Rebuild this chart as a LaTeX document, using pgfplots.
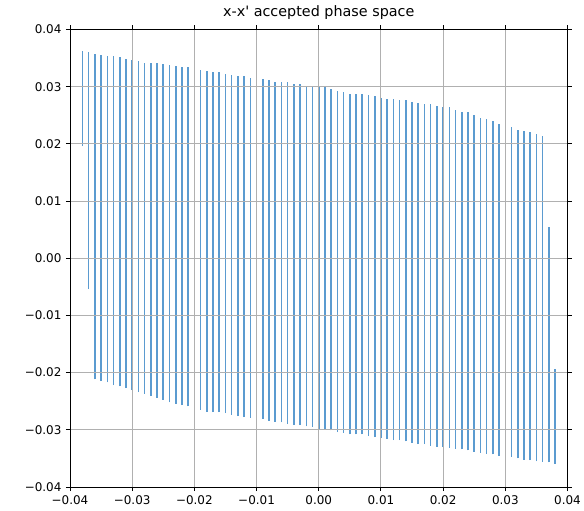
\documentclass[border=0pt]{standalone}
\usepackage{fontspec}
\setmainfont{DejaVu Sans}
\usepackage{pgfplots}
\pgfplotsset{compat=1.18}
\usepackage{pgfplotstable}
\definecolor{mplblue}{HTML}{1F77B4}
\definecolor{colbar}{HTML}{5B9BD0}
\definecolor{mplgrid}{HTML}{B0B0B0}

\pgfplotstableread{
x lo hi
-0.038 0.0196 0.0362
-0.037 -0.0054 0.0360
-0.036 -0.0212 0.0357
-0.035 -0.0215 0.0355
-0.034 -0.0217 0.0353
-0.033 -0.0222 0.0353
-0.032 -0.0224 0.0352
-0.031 -0.0227 0.0349
-0.030 -0.0230 0.0347
-0.029 -0.0234 0.0345
-0.028 -0.0237 0.0342
-0.027 -0.0241 0.0342
-0.026 -0.0244 0.0341
-0.025 -0.0247 0.0340
-0.024 -0.0252 0.0338
-0.023 -0.0254 0.0336
-0.022 -0.0257 0.0335
-0.021 -0.0259 0.0334
-0.020 -0.0263 0.0331
-0.019 -0.0265 0.0330
-0.018 -0.0268 0.0328
-0.017 -0.0269 0.0325
-0.016 -0.0269 0.0325
-0.015 -0.0271 0.0323
-0.014 -0.0274 0.0320
-0.013 -0.0276 0.0318
-0.012 -0.0278 0.0318
-0.011 -0.0279 0.0316
-0.010 -0.0280 0.0315
-0.009 -0.0281 0.0313
-0.008 -0.0284 0.0311
-0.007 -0.0286 0.0308
-0.006 -0.0287 0.0308
-0.005 -0.0290 0.0308
-0.004 -0.0291 0.0305
-0.003 -0.0292 0.0304
-0.002 -0.0294 0.0301
-0.001 -0.0295 0.0300
0.000 -0.0298 0.0299
0.001 -0.0300 0.0299
0.002 -0.0301 0.0296
0.003 -0.0304 0.0293
0.004 -0.0305 0.0290
0.005 -0.0308 0.0288
0.006 -0.0308 0.0287
0.007 -0.0308 0.0287
0.008 -0.0311 0.0286
0.009 -0.0313 0.0283
0.010 -0.0315 0.0281
0.011 -0.0316 0.0278
0.012 -0.0318 0.0278
0.013 -0.0318 0.0276
0.014 -0.0320 0.0276
0.015 -0.0323 0.0273
0.016 -0.0325 0.0272
0.017 -0.0325 0.0269
0.018 -0.0328 0.0269
0.019 -0.0330 0.0267
0.020 -0.0330 0.0265
0.021 -0.0331 0.0264
0.022 -0.0333 0.0259
0.023 -0.0334 0.0255
0.024 -0.0336 0.0255
0.025 -0.0338 0.0250
0.026 -0.0340 0.0245
0.027 -0.0342 0.0244
0.028 -0.0343 0.0240
0.029 -0.0345 0.0235
0.030 -0.0346 0.0234
0.031 -0.0347 0.0230
0.032 -0.0350 0.0225
0.033 -0.0352 0.0223
0.034 -0.0353 0.0220
0.035 -0.0355 0.0217
0.036 -0.0356 0.0213
0.037 -0.0357 0.0055
0.038 -0.0359 -0.0194
}\cols

\begin{document}
\fontsize{12}{14}\selectfont
\begin{tikzpicture}
\begin{axis}[
  name=ax, at={(0,0)}, anchor=south west,
  scale only axis, width=497.5bp, height=457.5bp,
  xmin=-0.04, xmax=0.04, ymin=-0.04, ymax=0.04,
  xtick={-0.04,-0.03,-0.02,-0.01,0,0.01,0.02,0.03,0.04},
  xticklabels={−0.04,−0.03,−0.02,−0.01,0.00,0.01,0.02,0.03,0.04},
  ytick={-0.04,-0.03,-0.02,-0.01,0,0.01,0.02,0.03,0.04},
  yticklabels={−0.04,−0.03,−0.02,−0.01,0.00,0.01,0.02,0.03,0.04},
  scaled ticks=false,
  tick align=outside, major tick length=4.2bp,
  every tick/.style={black, line width=0.96bp},
  axis line style={line width=0.96bp},
  grid=major, major grid style={draw=mplgrid, line width=0.96bp},
  axis on top,
  title={x-x\textquotesingle\ accepted phase space},
  title style={font=\fontsize{14.4}{17}\selectfont, at={(0.5,1)}, anchor=base, inner sep=0pt, yshift=7.2bp},
  tick label style={font=\fontsize{12}{14}\selectfont},
  xticklabel style={inner sep=0pt, yshift=-4.2bp},
  yticklabel style={inner sep=0pt, xshift=-4.2bp},
]
\addplot[draw=none, mark=none, forget plot,
  error bars/.cd, y dir=plus, y explicit, error mark=none,
  error bar style={draw=colbar, solid, line width=1.6bp}]
  table[x=x, y=lo, y error plus expr={\thisrow{hi}-\thisrow{lo}}] {\cols};
\end{axis}
\pgfresetboundingbox
\path[use as bounding box] (-70bp,-24bp) rectangle (514bp,487bp);
\end{tikzpicture}
\end{document}
